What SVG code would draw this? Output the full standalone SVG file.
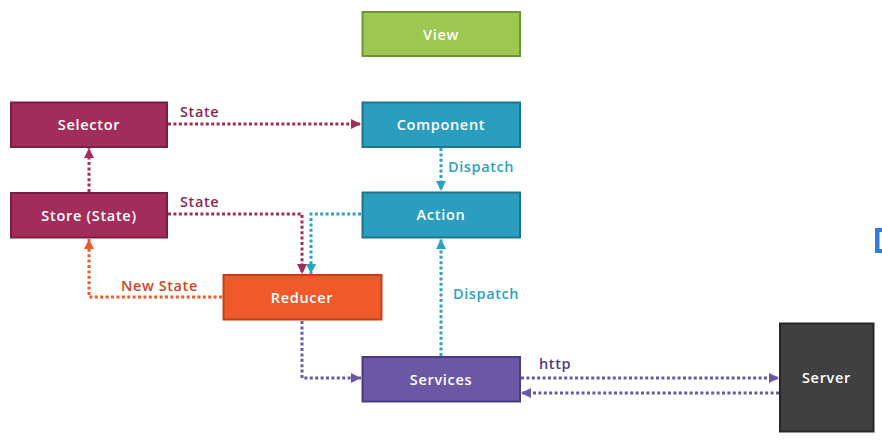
<svg xmlns="http://www.w3.org/2000/svg" width="882" height="444" viewBox="0 0 882 444">
<style>
.node text{font-family:"Open Sans","Liberation Sans",sans-serif;font-weight:600;font-size:14.5px;letter-spacing:0.7px;fill:#fff;text-anchor:middle;dominant-baseline:central}
.lbl{font-family:"Open Sans","Liberation Sans",sans-serif;font-weight:600;font-size:14.5px;letter-spacing:0.6px}
.c{fill:none;stroke-width:3;stroke-dasharray:3 2.4}
.m{stroke:#a32d5a}.b{stroke:#2ba3c2}.o{stroke:#ee5a2a}.p{stroke:#6a58a5}
</style>
<defs>
<marker id="am" viewBox="0 0 10 10" refX="10" refY="5" markerWidth="10" markerHeight="10" markerUnits="userSpaceOnUse" orient="auto"><path d="M0,0L10,5L0,10z" fill="#a32d5a"/></marker>
<marker id="ab" viewBox="0 0 10 10" refX="10" refY="5" markerWidth="10" markerHeight="10" markerUnits="userSpaceOnUse" orient="auto"><path d="M0,0L10,5L0,10z" fill="#2ba3c2"/></marker>
<marker id="ao" viewBox="0 0 10 10" refX="10" refY="5" markerWidth="10" markerHeight="10" markerUnits="userSpaceOnUse" orient="auto"><path d="M0,0L10,5L0,10z" fill="#ee5a2a"/></marker>
<marker id="ap" viewBox="0 0 10 10" refX="10" refY="5" markerWidth="10" markerHeight="10" markerUnits="userSpaceOnUse" orient="auto"><path d="M0,0L10,5L0,10z" fill="#6a58a5"/></marker>
</defs>
<rect width="882" height="444" fill="#fff"/>
<g id="connectors">
<path class="c m" d="M168,124H361" marker-end="url(#am)"/>
<path class="c m" d="M89,192V148" marker-end="url(#am)"/>
<path class="c m" d="M168,214H302V274" marker-end="url(#am)"/>
<path class="c b" d="M361,214H311V274" marker-end="url(#ab)"/>
<path class="c b" d="M441,148V191" marker-end="url(#ab)"/>
<path class="c b" d="M441,356V239" marker-end="url(#ab)"/>
<path class="c o" d="M222,297H89V239" marker-end="url(#ao)"/>
<path class="c p" d="M302,321V378H361" marker-end="url(#ap)"/>
<path class="c p" d="M521,378H779" marker-end="url(#ap)"/>
<path class="c p" d="M779,393H521" marker-end="url(#ap)"/>
<text class="lbl" x="180" y="117" fill="#8e2752">State</text>
<text class="lbl" x="180" y="207" fill="#8e2752">State</text>
<text class="lbl" x="448" y="172" fill="#2ba3c2">Dispatch</text>
<text class="lbl" x="453" y="299" fill="#2ba3c2">Dispatch</text>
<text class="lbl" x="121" y="291" fill="#d1461f">New State</text>
<text class="lbl" x="539" y="369" fill="#4b3c85">http</text>
</g>
<g id="view" class="node"><rect x="362.5" y="12" width="157.5" height="44" fill="#9cc851" stroke="#6f9634" stroke-width="2"/><text x="441" y="34">View</text></g>
<g id="selector" class="node"><rect x="11" y="102.5" width="156" height="44.5" fill="#a32d5a" stroke="#7a1f43" stroke-width="2"/><text x="89" y="124.5">Selector</text></g>
<g id="component" class="node"><rect x="362.5" y="102.5" width="157.5" height="44.5" fill="#2b9ebf" stroke="#1e7590" stroke-width="2"/><text x="441" y="124.5">Component</text></g>
<g id="store" class="node"><rect x="11" y="193" width="156" height="44.5" fill="#a32d5a" stroke="#7a1f43" stroke-width="2"/><text x="89" y="215">Store (State)</text></g>
<g id="action" class="node"><rect x="362.5" y="192.5" width="157.5" height="45" fill="#2b9ebf" stroke="#1e7590" stroke-width="2"/><text x="441" y="214.5">Action</text></g>
<g id="reducer" class="node"><rect x="223.5" y="275" width="158" height="44.5" fill="#f05a2a" stroke="#c2411a" stroke-width="2"/><text x="302" y="297.5">Reducer</text></g>
<g id="services" class="node"><rect x="362.5" y="357" width="157.5" height="44.5" fill="#6a58a5" stroke="#4a3b82" stroke-width="2"/><text x="441" y="379.5">Services</text></g>
<g id="server" class="node"><rect x="780" y="323.5" width="93.5" height="108" fill="#404040" stroke="#262626" stroke-width="2"/><text x="826.5" y="377.5">Server</text></g>
<rect x="875" y="228" width="7" height="25" fill="#2f7de1"/>
<rect x="879.5" y="232" width="2.5" height="17" fill="#fff"/>
</svg>
